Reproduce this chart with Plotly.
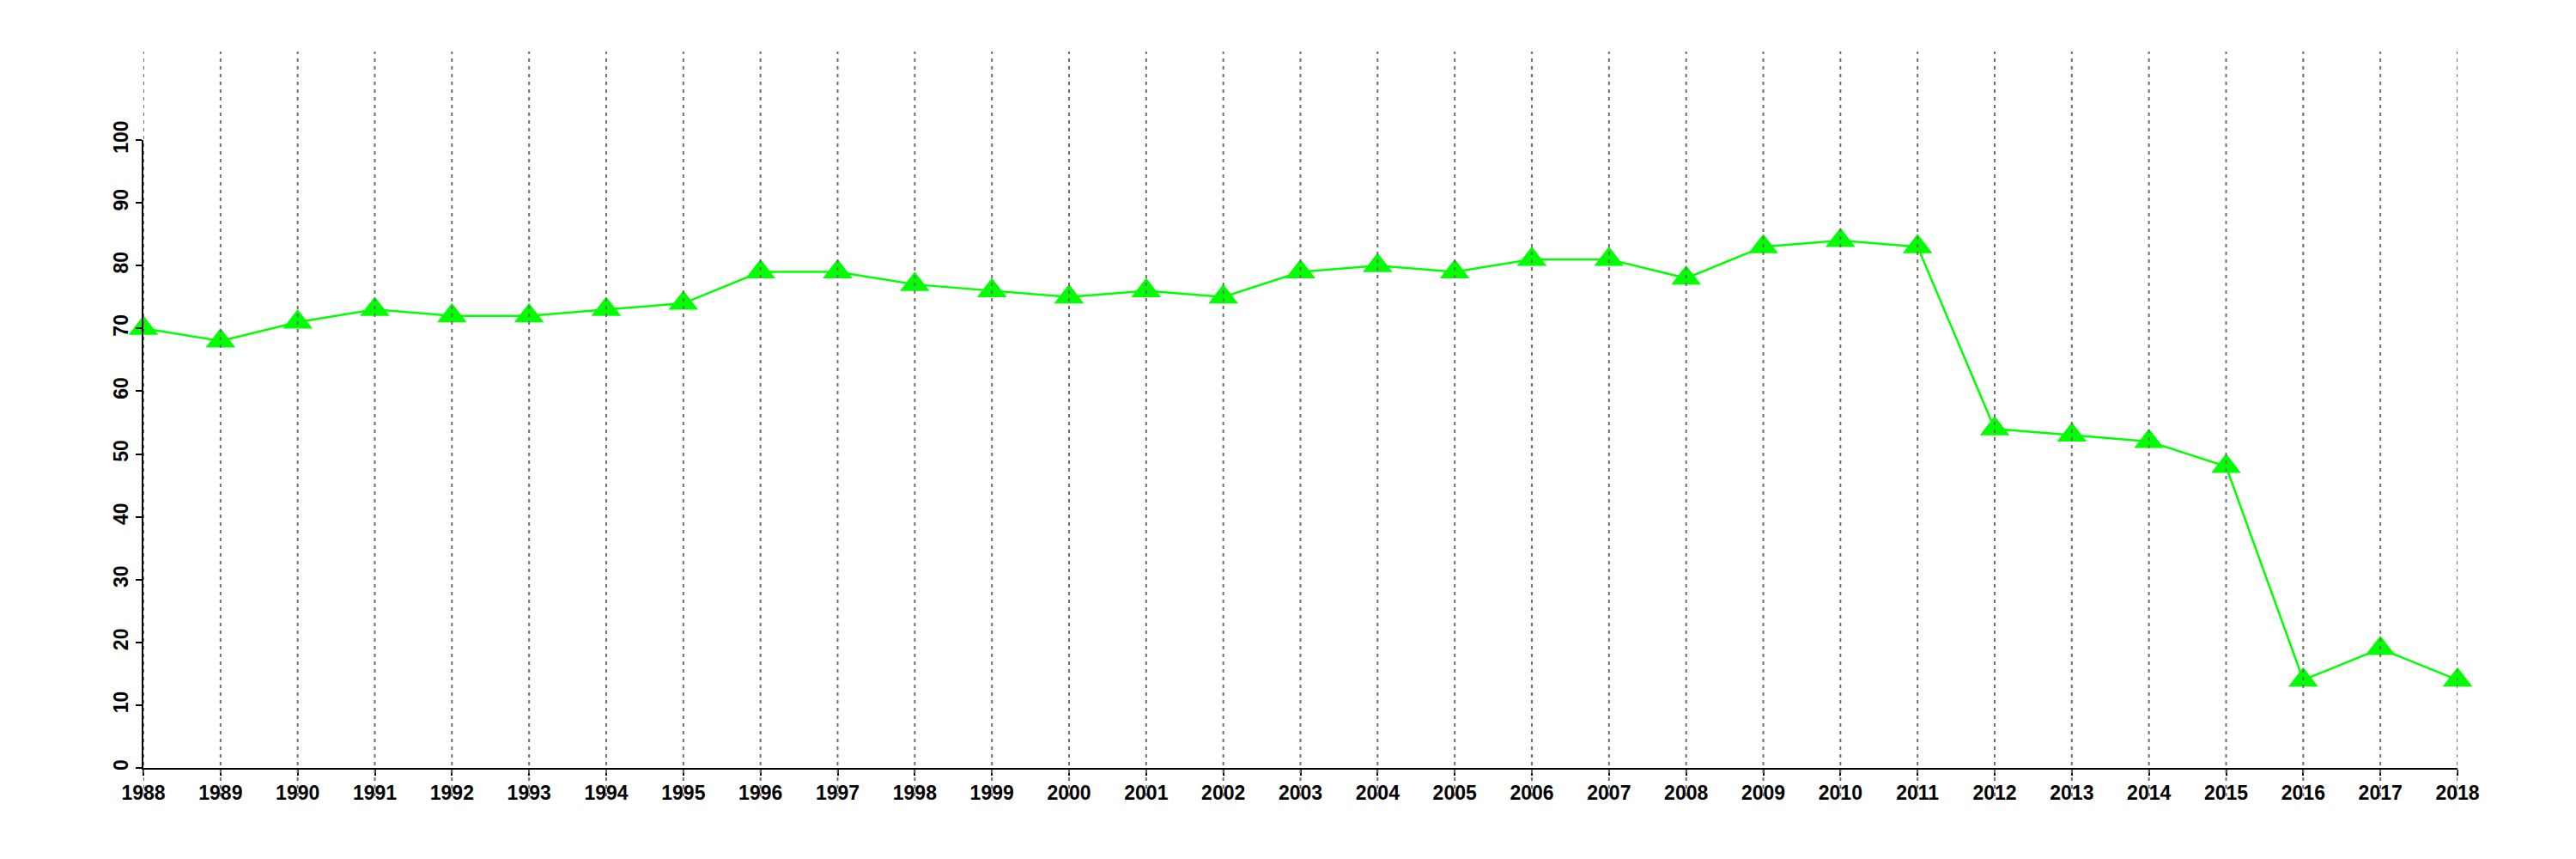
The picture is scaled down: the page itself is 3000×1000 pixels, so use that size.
import plotly.graph_objects as go

years = list(range(1988, 2019))
values = [70, 68, 71, 73, 72, 72, 73, 74, 79, 79, 77, 76, 75, 76, 75,
          79, 80, 79, 81, 81, 78, 83, 84, 83, 54, 53, 52, 48, 14, 19, 14]
y_ticks = [0, 10, 20, 30, 40, 50, 60, 70, 80, 90, 100]

LINE_GREEN = "#00ff00"
FONT = dict(family="Liberation Sans, Arial, Helvetica, sans-serif", size=23, color="black", weight="bold")

fig = go.Figure()
fig.add_trace(go.Scatter(
    x=years, y=values, mode="lines+markers",
    line=dict(color=LINE_GREEN, width=2.5),
    marker=dict(symbol="triangle-up", size=30, color=LINE_GREEN, line=dict(width=0)),
    cliponaxis=False, showlegend=False,
))

shapes = []
for yr in years:
    shapes.append(dict(type="line", xref="x", yref="paper", x0=yr, x1=yr,
                       y0=-0.045, y1=1.141, layer="above",
                       line=dict(color="#707070", width=2, dash="4px,5px")))

fig.update_layout(
    width=3000, height=1000,
    paper_bgcolor="white", plot_bgcolor="white",
    margin=dict(l=159, r=146, t=155, b=114),
    shapes=shapes,
    font=FONT,
    xaxis=dict(range=[1988, 2018], tickmode="array", tickvals=years,
               ticktext=[str(y) for y in years], showgrid=False, zeroline=False,
               showline=True, linecolor="black", linewidth=2,
               ticks="outside", ticklen=7, tickwidth=2, tickcolor="black",
               tickfont=FONT, tickangle=0),
    yaxis=dict(range=[0, 100], tickmode="array", tickvals=y_ticks,
               ticktext=[str(v) for v in y_ticks], showgrid=False, zeroline=False,
               showline=True, linecolor="black", linewidth=2,
               ticks="outside", ticklen=7, tickwidth=2, tickcolor="black",
               tickfont=FONT, tickangle=-90),
)

fig.write_html("out.html")
